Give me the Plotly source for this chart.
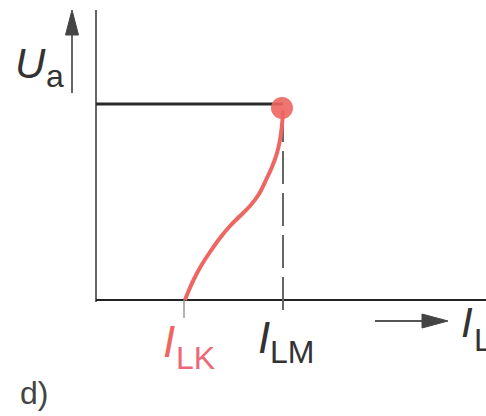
import plotly.graph_objects as go

# ---- data (arbitrary current / voltage units) ----
I_LK = 0.89          # short-circuit current
I_LM = 1.87          # max current
U_A = 1.96           # output voltage level
curve_I = [1.87, 1.86, 1.84, 1.81, 1.76, 1.70, 1.63, 1.54, 1.44, 1.34, 1.24, 1.14, 1.05, 0.98, 0.93, 0.89]
curve_U = [1.90, 1.75, 1.60, 1.47, 1.33, 1.20, 1.06, 0.94, 0.84, 0.74, 0.62, 0.48, 0.34, 0.21, 0.10, 0.00]
axis_I_end = 3.90
axis_U_end = 2.90

W, H = 486, 416
RED = "#EE6662"
DARK = "#2a2a2a"

fig = go.Figure()

# axes
fig.add_trace(go.Scatter(x=[0, 0], y=[-0.02, axis_U_end], mode="lines",
                         line=dict(color="#666", width=2), hoverinfo="skip"))
fig.add_trace(go.Scatter(x=[0, axis_I_end], y=[0, 0], mode="lines",
                         line=dict(color="#222", width=2), hoverinfo="skip"))
# tick below I_LK
fig.add_trace(go.Scatter(x=[I_LK - 0.01, I_LK - 0.01], y=[0, -0.18], mode="lines",
                         line=dict(color="#999", width=1.5), hoverinfo="skip"))
# horizontal U_a line
fig.add_trace(go.Scatter(x=[0, I_LM], y=[U_A, U_A], mode="lines",
                         line=dict(color=DARK, width=3), hoverinfo="skip"))
# dashed line at I_LM (drawn bottom -> top)
fig.add_trace(go.Scatter(x=[I_LM, I_LM], y=[-0.10, 1.86], mode="lines",
                         line=dict(color="#666", width=2, dash="33px,9px"), hoverinfo="skip"))
# curve
fig.add_trace(go.Scatter(x=curve_I, y=curve_U, mode="lines", line_shape="spline",
                         line=dict(color=RED, width=4), hoverinfo="skip"))
# dot
fig.add_trace(go.Scatter(x=[I_LM - 0.01], y=[U_A - 0.04], mode="markers",
                         marker=dict(color=RED, size=22, opacity=0.9), hoverinfo="skip"))


def px(x):
    return x / W


def py(y):
    return 1 - y / H


def tri(tip, direction, length, width):
    tx, ty = tip
    if direction == "up":
        pts = [(tx, ty), (tx - width / 2, ty + length), (tx + width / 2, ty + length)]
    else:
        pts = [(tx, ty), (tx - length, ty - width / 2), (tx - length, ty + width / 2)]
    return "M " + " L ".join(f"{px(a)},{py(b)}" for a, b in pts) + " Z"


shapes = [
    dict(type="line", xref="paper", yref="paper", x0=px(72), y0=py(93), x1=px(72), y1=py(25),
         line=dict(color="#666", width=2)),
    dict(type="path", xref="paper", yref="paper", path=tri((72, 10), "up", 25, 13),
         fillcolor="#444", line=dict(color="#444", width=1)),
    dict(type="line", xref="paper", yref="paper", x0=px(375), y0=py(321), x1=px(430), y1=py(321),
         line=dict(color="#555", width=2)),
    dict(type="path", xref="paper", yref="paper", path=tri((448, 321), "right", 26, 14),
         fillcolor="#444", line=dict(color="#444", width=1)),
]


def label(text, x, y, size, color, italic=False):
    t = f"<i>{text}</i>" if italic else text
    return dict(text=t, x=px(x), y=py(y), xref="paper", yref="paper", xanchor="left",
                yanchor="middle", showarrow=False, font=dict(size=size, color=color,
                family="Liberation Sans, Arial, sans-serif"))


anns = [
    label("U", 13, 63, 42, "#333", italic=True),
    label("a", 44, 76, 32, "#333"),
    label("I", 161, 341, 44, RED, italic=True),
    label("LK", 174, 358, 32, "#EE6678"),
    label("I", 256, 337, 44, "#333", italic=True),
    label("LM", 268, 352, 32, "#333"),
    label("I", 459, 322, 42, "#333", italic=True),
    label("L", 472, 340, 32, "#333"),
    label("d)", 18, 393, 32, "#444"),
]

fig.update_layout(
    width=W, height=H, margin=dict(l=0, r=0, t=0, b=0),
    paper_bgcolor="white", plot_bgcolor="white", showlegend=False,
    xaxis=dict(range=[-0.96, 3.90], visible=False, fixedrange=True),
    yaxis=dict(range=[-1.16, 3.00], visible=False, fixedrange=True),
    shapes=shapes, annotations=anns,
)

fig.write_html("out.html", config={"displayModeBar": False, "staticPlot": True},
               post_script="document.body.style.margin='0';document.body.style.overflow='hidden';")
